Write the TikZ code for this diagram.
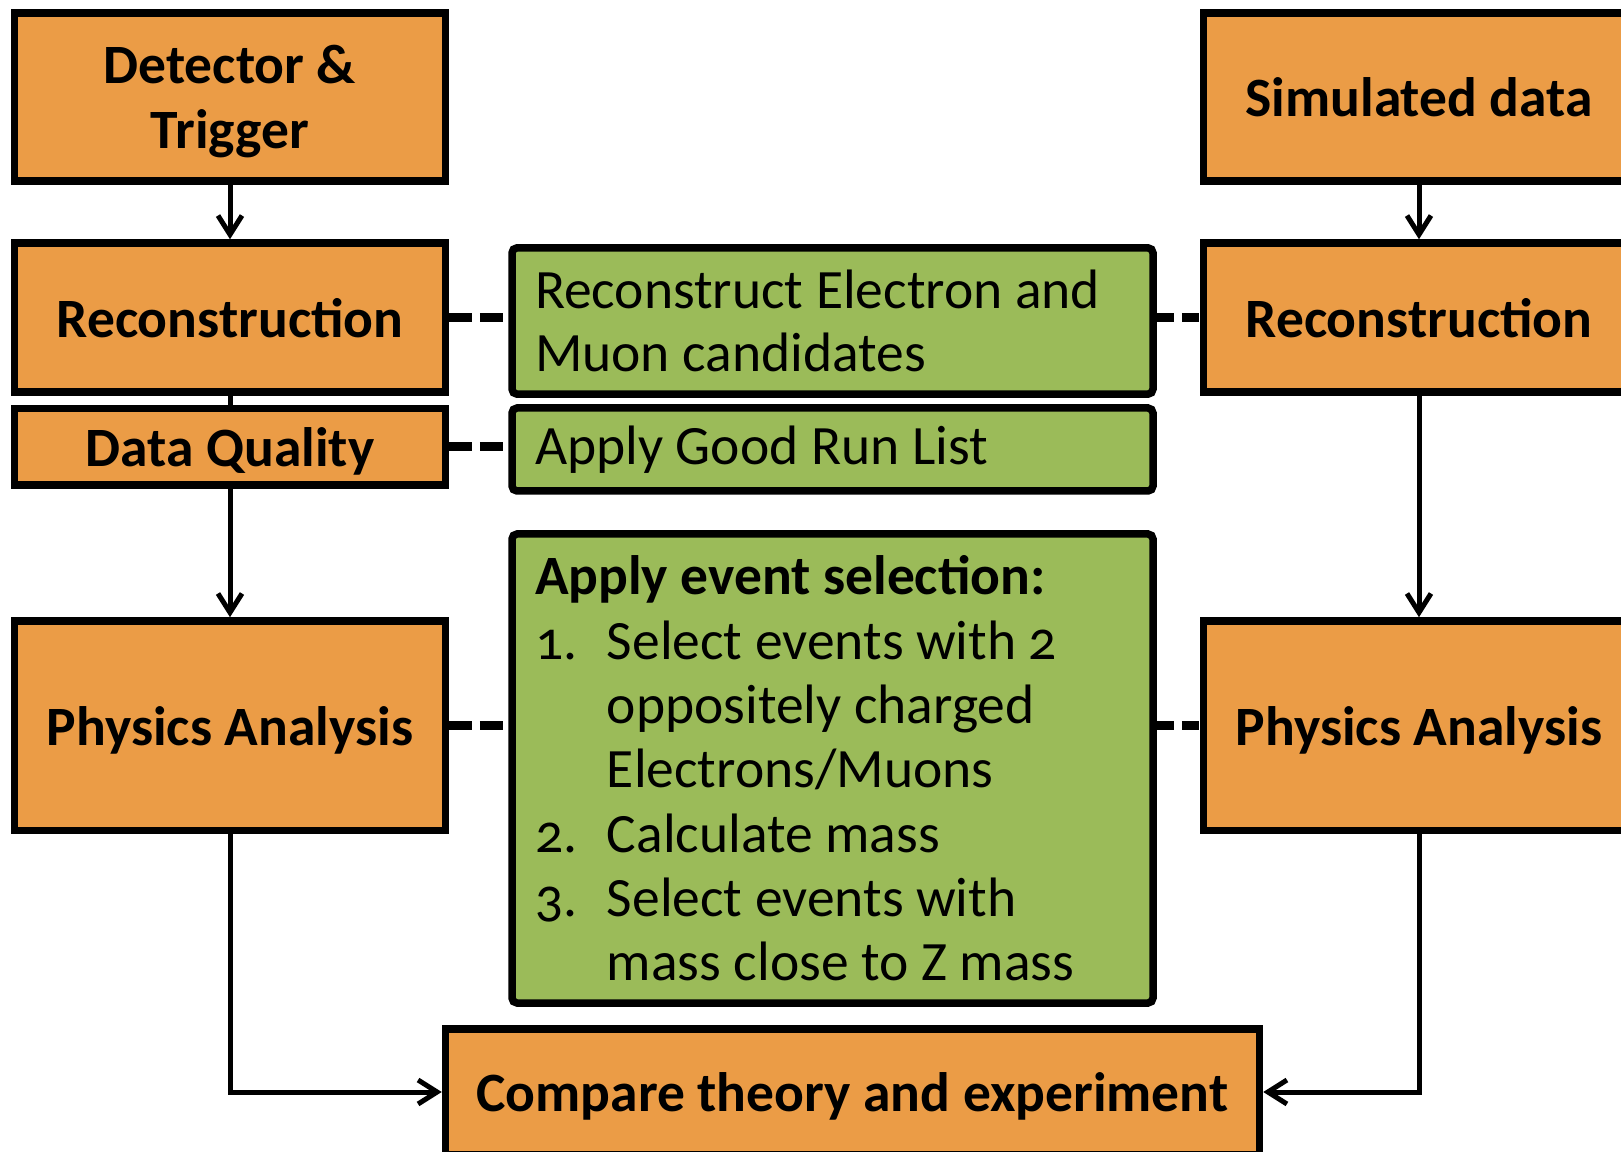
\documentclass[tikz,border=0pt]{standalone}
\usepackage{fontspec}
\setmainfont{Carlito}[Numbers=OldStyle]
\usetikzlibrary{arrows.meta}

\definecolor{boxorange}{HTML}{EB9C46}
\definecolor{boxgreen}{HTML}{9BBB59}
\newcommand{\stepno}[1]{\makebox[0.72cm][l]{#1}}
\newcommand{\stepgap}{\hspace*{0.72cm}}

\begin{document}
\begin{tikzpicture}[-{Straight Barb[length=1.9mm,width=2.4mm]}, line width=0.5mm,
  block/.style={draw, line width=0.75mm, fill=boxorange, align=center, minimum width=4.31cm, inner sep=0pt, text depth=0pt, font=\bfseries\fontsize{15.8}{18.5}\selectfont},
  note/.style={draw, line width=0.75mm, fill=boxgreen, rounded corners=0.5mm, text width=5.95cm, align=flush left, inner xsep=0.23cm, inner ysep=0pt, font=\fontsize{15.8}{18.1}\selectfont},
  link/.style={-, line width=0.9mm, dash pattern=on #1 off 0.75mm},
  link/.default=2.3mm]
  \useasboundingbox (0,0) rectangle (16.21,-11.52);
  % data chain
  \node [block, minimum height=1.68cm, text depth={}] (det) at (2.30,-0.97) {Detector \&\\\smash{Trigger}};
  \node [block, minimum height=1.49cm] (recL) at (2.30,-3.175) {Reconstruction};
  \node [block, minimum height=0.765cm] (dq) at (2.30,-4.47) {Data Quality};
  \node [block, minimum height=2.095cm] (physL) at (2.30,-7.257) {Physics Analysis};
  % simulation chain
  \node [block, minimum height=1.68cm] (simR) at (14.19,-0.97) {Simulated data};
  \node [block, minimum height=1.49cm] (recR) at (14.19,-3.175) {Reconstruction};
  \node [block, minimum height=2.095cm] (physR) at (14.19,-7.257) {Physics Analysis};
  \node [block, minimum width=8.14cm, minimum height=1.26cm] (cmp) at (8.525,-10.92) {Compare theory and experiment};
  % what is done
  \node [note, minimum height=1.463cm] (g1) at (8.325,-3.21) {Reconstruct Electron and\\Muon candidates};
  \node [note, minimum height=0.83cm] (g2) at (8.325,-4.495) {Apply Good Run List};
  \node [note, minimum height=4.69cm, font=\fontsize{15.8}{18.3}\selectfont] (g3) at (8.325,-7.685) {\textbf{Apply event selection:}\\
    \stepno{1.}Select events with 2\\
    \stepgap oppositely charged\\
    \stepgap Electrons/Muons\\
    \stepno{2.}Calculate mass\\
    \stepno{3.}Select events with\\
    \stepgap mass close to Z mass};

  \path (det) edge (recL);
  \draw [-] (recL) -- (dq);
  \path (dq) edge (physL);
  \path (simR) edge (recR);
  \path (recR) edge (physR);
  \draw (physL.south) |- (cmp.west);
  \draw (physR.south) |- (cmp.east);

  \draw [link] (recL.east) -- (recL.east -| g1.west);
  \draw [link] (dq.east) -- (dq.east -| g2.west);
  \draw [link] (physL.east) -- (physL.east -| g3.west);
  \draw [link=1.75mm] (g1.east |- recR.west) -- (recR.west);
  \draw [link=1.75mm] (g3.east |- physR.west) -- (physR.west);
\end{tikzpicture}
\end{document}
